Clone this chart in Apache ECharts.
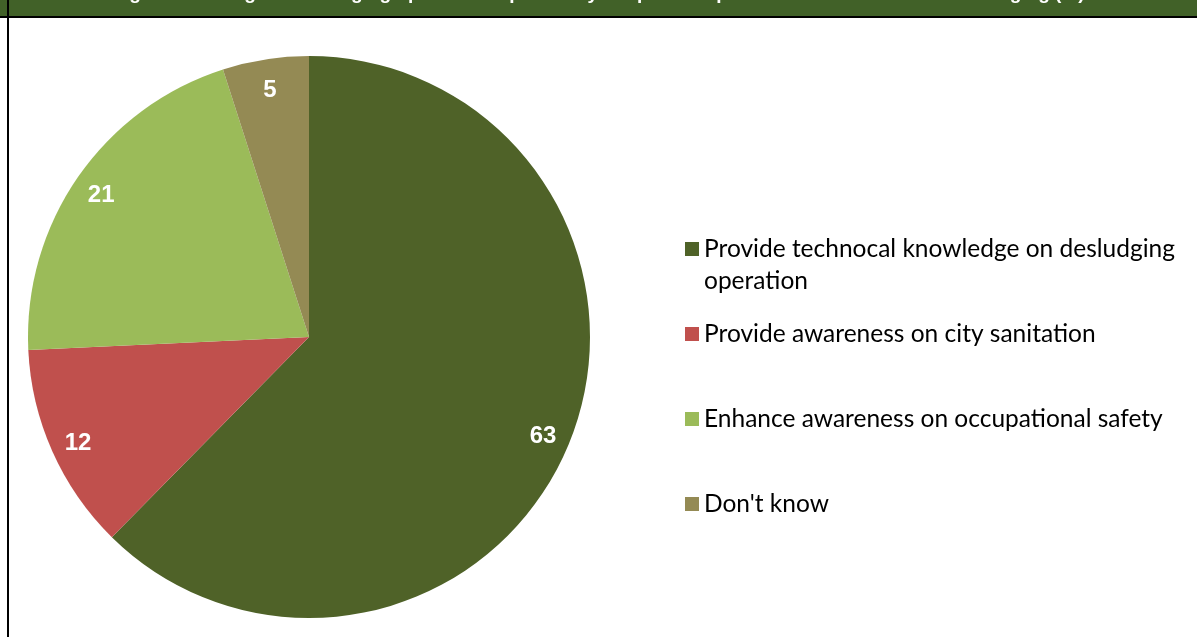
<!DOCTYPE html>
<html>
<head>
<meta charset="utf-8">
<script src="https://cdn.jsdelivr.net/npm/echarts@6/dist/echarts.min.js"></script>
<style>
  html, body { margin: 0; padding: 0; background: #fff; }
  #chart { width: 1197px; height: 637px; }
</style>
</head>
<body>
<div id="chart"></div>
<script>
const titleText = 'Figure: Training on desludging operation expected by the private operators for their staff on desludging (%)'
const categories = [
  'Provide technocal knowledge on desludging operation',
  'Provide awareness on city sanitation',
  'Enhance awareness on occupational safety',
  "Don't know"
]
const values = [63, 12, 21, 5]
const colors = ['#4F6228', '#C0504D', '#9BBB59', '#948A54']

// legend texts, first one wraps onto a second line
const legendTexts = [
  '\nProvide technocal knowledge on desludging\noperation',
  'Provide awareness on city sanitation',
  'Enhance awareness on occupational safety',
  "Don't know"
]
const legendTops = [201, 318, 403, 488]

const chart = echarts.init(document.getElementById('chart'))

const pieData = categories.map((name, i) => ({
  name: name,
  value: values[i],
  itemStyle: { color: colors[i] }
}))

const legends = categories.map((name, i) => ({
  data: [name],
  orient: 'vertical',
  left: 685,
  top: legendTops[i],
  padding: 0,
  icon: 'rect',
  itemWidth: 14,
  itemHeight: 14,
  selectedMode: false,
  formatter: () => legendTexts[i],
  textStyle: {
    fontFamily: 'Lato',
    fontSize: 24.5,
    color: '#000',
    lineHeight: 32
  }
}))

const opt = {
  backgroundColor: '#fff',
  animation: false,
  title: {
    text: titleText,
    left: 'center',
    top: -21,
    textStyle: {
      fontFamily: 'Liberation Sans',
      fontWeight: 'bold',
      fontSize: 19,
      color: '#fff'
    }
  },
  graphic: [
    { type: 'rect', z: -1, shape: { x: 0, y: 0, width: 1197, height: 16 }, style: { fill: '#416128' } },
    { type: 'rect', z: 10, shape: { x: 0, y: 16, width: 1197, height: 2 }, style: { fill: '#000' } },
    { type: 'rect', z: 10, shape: { x: 7, y: 0, width: 2, height: 637 }, style: { fill: '#000' } }
  ],
  legend: legends,
  series: [{
    name: 'main',
    type: 'pie',
    center: [309, 337],
    radius: [0, 281],
    startAngle: 90,
    clockwise: true,
    label: { show: false },
    labelLine: { show: false },
    itemStyle: { borderWidth: 0 },
    emphasis: { disabled: true },
    data: pieData
  }, {
    // transparent ring, only used to place the value labels near the rim
    name: 'labels',
    type: 'pie',
    center: [309, 340],
    radius: [219, 281],
    startAngle: 90,
    clockwise: true,
    silent: true,
    itemStyle: { color: 'rgba(0,0,0,0)', borderWidth: 0 },
    label: {
      show: true,
      position: 'inside',
      formatter: '{c}',
      fontFamily: 'Liberation Sans',
      fontWeight: 'bold',
      fontSize: 24,
      color: '#fff'
    },
    labelLine: { show: false },
    emphasis: { disabled: true },
    data: values.map((v, i) => ({ name: categories[i], value: v, itemStyle: { color: 'rgba(0,0,0,0)' } }))
  }]
}

chart.setOption(opt)
</script>
</body>
</html>
